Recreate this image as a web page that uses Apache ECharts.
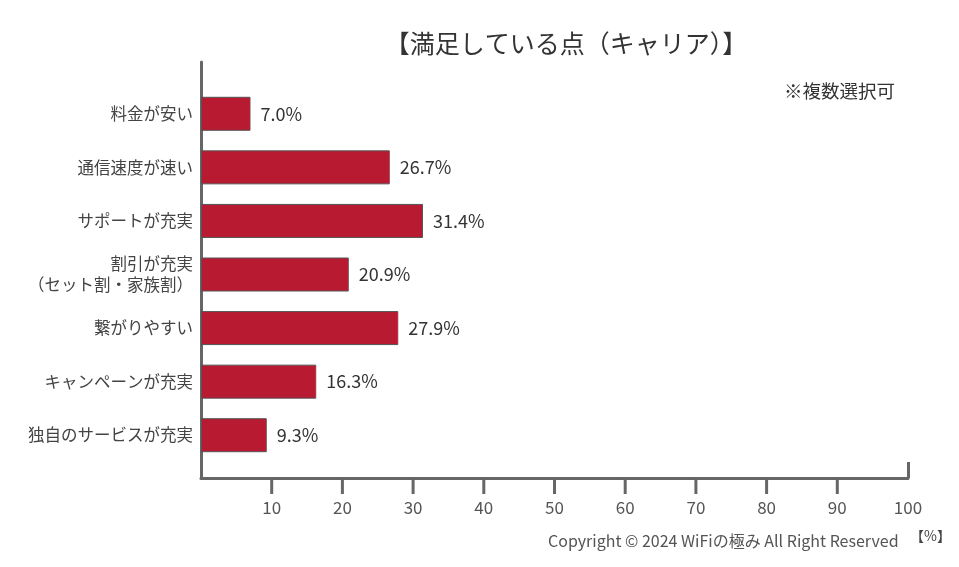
<!DOCTYPE html>
<html><head><meta charset="utf-8">
<script src="https://cdn.jsdelivr.net/npm/echarts@6/dist/echarts.min.js"></script>
<style>html,body{margin:0;padding:0;background:#fff}#c{width:959px;height:567px}</style>
</head><body><div id="c"></div>
<script>
const categories = ['料金が安い','通信速度が速い','サポートが充実','割引が充実\n（セット割・家族割）','繋がりやすい','キャンペーンが充実','独自のサービスが充実'];
const values = [7.0, 26.7, 31.4, 20.9, 27.9, 16.3, 9.3];
const tickValues = [10,20,30,40,50,60,70,80,90];
const tickLabels = [10,20,30,40,50,60,70,80,90,100];
const FONT = '"Noto Sans CJK JP", "Noto Sans", sans-serif';
const chart = echarts.init(document.getElementById('c'));
chart.setOption({
  animation:false,
  backgroundColor:'#fff',
  textStyle:{fontFamily:FONT},
  title:[
    {text:'【満足している点（キャリア）】',left:561,top:26,textAlign:'center',textStyle:{fontSize:25,fontWeight:'normal',color:'#333',fontFamily:FONT}},
    {text:'※複数選択可',left:779,top:77,textStyle:{fontSize:18.5,fontWeight:'normal',color:'#333',fontFamily:FONT}},
    {text:'Copyright © 2024 WiFiの極み All Right Reserved',left:543,top:528,textStyle:{fontSize:16,fontWeight:'normal',color:'#555',fontFamily:FONT}},
    {text:'【%】',left:905,top:524,textStyle:{fontSize:14,fontWeight:'normal',color:'#444',fontFamily:FONT}}
  ],
  grid:[
    {left:201,right:51,top:87,bottom:105,containLabel:false},
    {left:201,right:51,top:62,bottom:89,containLabel:false},
    {left:201,right:51,top:62,bottom:89,containLabel:false}
  ],
  xAxis:[
    {gridIndex:0,type:'value',min:0,max:100,show:false},
    {gridIndex:1,type:'value',min:0,max:100,interval:10,position:'bottom',
      axisLine:{show:true,lineStyle:{color:'#666',width:3}},
      axisTick:{show:false},
      axisLabel:{show:true,customValues:tickLabels,margin:21,fontSize:17,color:'#555',fontFamily:FONT},
      splitLine:{show:false}},
    {gridIndex:2,type:'value',min:0,max:100,position:'bottom',
      axisLine:{show:false},
      axisTick:{show:true,inside:true,customValues:[100],length:16,lineStyle:{color:'#666',width:3}},
      axisLabel:{show:false},splitLine:{show:false}}
  ],
  yAxis:[
    {gridIndex:0,type:'category',data:categories,inverse:true,
      axisLine:{show:false},axisTick:{show:false},
      axisLabel:{margin:8,fontSize:16.5,color:'#444',lineHeight:21,fontFamily:FONT}},
    {gridIndex:1,type:'value',min:0,max:1,
      axisLine:{show:true,lineStyle:{color:'#666',width:3}},
      axisTick:{show:false},axisLabel:{show:false},splitLine:{show:false}},
    {gridIndex:2,type:'value',min:0,max:1,show:false}
  ],
  series:[{
    type:'bar',xAxisIndex:0,yAxisIndex:0,data:values,barWidth:34,
    itemStyle:{color:'#B81A31',borderColor:'#555',borderWidth:1},
    label:{show:true,position:'right',distance:10,fontSize:18,color:'#333',fontFamily:FONT,
      formatter:p=>p.value.toFixed(1)+'%'}
  }]
});
// downward axis ticks placed through the library's own scale
const axisY = chart.convertToPixel({yAxisIndex:1}, 0);
const TICK_LEN = 16;
chart.setOption({
  graphic: tickValues.map(v => {
    const x = chart.convertToPixel({xAxisIndex:1}, v);
    return {type:'line', silent:true, z:10,
      shape:{x1:x, y1:axisY, x2:x, y2:axisY + TICK_LEN},
      style:{stroke:'#666', lineWidth:3}};
  })
});
</script></body></html>
